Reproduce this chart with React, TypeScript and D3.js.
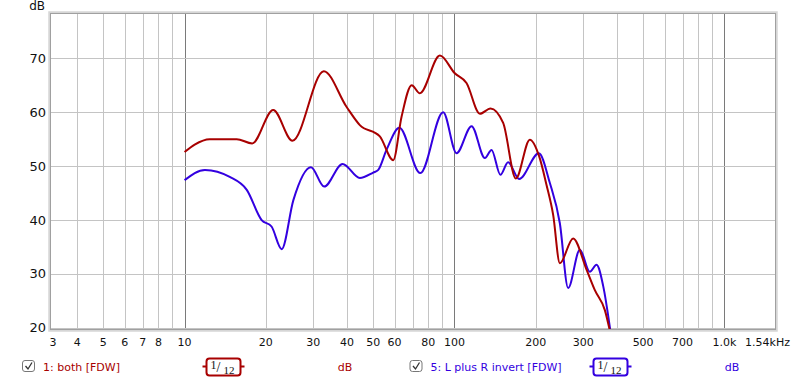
import * as d3 from 'd3';
import { useLayoutEffect, useRef } from 'react';

// 1: both [FDW]
const bothFreq = [10, 10.9, 12.4, 15.6, 17.8, 21.3, 25.1, 32.8, 39.8, 44.6, 52.9, 59.3, 63.7, 69.4, 74.4, 88.3, 100.3, 110.8, 124.2, 136, 151.5, 168.8, 190.2, 206, 219.3, 232, 245.7, 275.2, 308.5, 331.2, 360.7, 376.4];
const bothDb = [52.6, 54.0, 55.0, 55.0, 54.2, 60.4, 54.7, 67.6, 61.0, 57.6, 55.5, 51.1, 59.2, 65.0, 63.5, 70.5, 67.2, 65.4, 59.7, 60.7, 58.0, 47.7, 54.9, 51.8, 46.5, 41.0, 32.0, 36.6, 30.8, 27.0, 23.3, 19.5];

// 5: L plus R invert [FDW]
const invertFreq = [10, 11.9, 14.7, 17.0, 19.3, 21.0, 22.9, 25.3, 29.4, 32.9, 38.5, 44.6, 50.0, 52.2, 56.0, 62.5, 74.7, 90.8, 101.8, 115.7, 129.6, 137.2, 147.9, 158, 173.6, 205.4, 225.5, 245.7, 263.7, 291.4, 317.3, 336, 355.5, 378];
const invertDb = [47.4, 49.3, 48.0, 45.6, 40.0, 38.8, 34.6, 43.7, 49.8, 46.2, 50.4, 47.8, 48.8, 49.3, 53.0, 57.1, 48.7, 60.0, 52.4, 57.4, 51.5, 53.0, 48.4, 50.7, 47.6, 52.4, 46.9, 39.4, 27.4, 34.5, 30.4, 31.7, 27.8, 19.5];

const xTickValues = [3.2, 4, 5, 6, 7, 8, 10, 20, 30, 40, 50, 60, 80, 100, 200, 300, 500, 700, 1000, 1540];
const xTickLabels = ['3', '4', '5', '6', '7', '8', '10', '20', '30', '40', '50', '60', '80', '100', '200', '300', '500', '700', '1.0k', '1.54kHz'];
const yTickValues = [20, 30, 40, 50, 60, 70];

const seriesNames = ['1: both [FDW]', '5: L plus R invert [FDW]'];
const seriesColors = ['#a80000', '#3300e0'];

type Pt = { f: number; db: number };

export default function App() {
  const container = useRef<HTMLDivElement>(null);

  useLayoutEffect(() => {
    if (!container.current) return;
    document.body.style.margin = '0';

    const width = 800,
      height = 383;
    const plot = { left: 51, right: 775, top: 14, bottom: 329 };

    const parent = d3.select(container.current);
    parent.select('svg').remove();

    const svg = parent
      .append('svg')
      .attr('width', width)
      .attr('height', height)
      .style('font-family', '"DejaVu Sans", sans-serif')
      .style('font-size', '11px');

    const x = d3.scaleLog().domain([3.2, 1540]).range([plot.left, plot.right]);
    const y = d3.scaleLinear().domain([19.8, 78.2]).range([plot.bottom, plot.top]);

    svg.append('rect').attr('width', width).attr('height', height).attr('fill', '#fff');

    // grid
    const grid = svg.append('g');
    const gridFreqs = x.ticks().filter((f) => f > 3.3 && f < 1540);
    grid
      .selectAll('line.v')
      .data(gridFreqs)
      .join('line')
      .attr('x1', (d) => Math.round(x(d)) + 0.5)
      .attr('x2', (d) => Math.round(x(d)) + 0.5)
      .attr('y1', plot.top)
      .attr('y2', plot.bottom)
      .attr('stroke', (d) => ([10, 100, 1000].includes(d) ? '#7a7a7a' : '#c4c4c4'))
      .attr('stroke-width', 1);
    grid
      .selectAll('line.h')
      .data(yTickValues)
      .join('line')
      .attr('x1', plot.left)
      .attr('x2', plot.right)
      .attr('y1', (d) => Math.round(y(d)) + 0.5)
      .attr('y2', (d) => Math.round(y(d)) + 0.5)
      .attr('stroke', '#c4c4c4')
      .attr('stroke-width', 1);

    // curves
    svg
      .append('clipPath')
      .attr('id', 'plot-clip')
      .append('rect')
      .attr('x', plot.left)
      .attr('y', plot.top)
      .attr('width', plot.right - plot.left)
      .attr('height', plot.bottom - plot.top);

    const line = d3
      .line<Pt>()
      .x((d) => x(d.f))
      .y((d) => y(d.db))
      .curve(d3.curveMonotoneX);

    const series: Pt[][] = [
      bothFreq.map((f, i) => ({ f, db: bothDb[i] })),
      invertFreq.map((f, i) => ({ f, db: invertDb[i] })),
    ];

    svg
      .append('g')
      .attr('clip-path', 'url(#plot-clip)')
      .selectAll('path')
      .data([series[1], series[0]])
      .join('path')
      .attr('d', (d) => line(d))
      .attr('fill', 'none')
      .attr('stroke', (d, i) => (i === 0 ? seriesColors[1] : seriesColors[0]))
      .attr('stroke-width', 2)
      .attr('stroke-linejoin', 'round');

    // frame
    svg
      .append('rect')
      .attr('x', plot.left - 1.5)
      .attr('y', plot.top - 1.5)
      .attr('width', plot.right - plot.left + 3)
      .attr('height', plot.bottom - plot.top + 3)
      .attr('fill', 'none')
      .attr('stroke', '#d6d6d6')
      .attr('stroke-width', 2.5);
    svg
      .append('rect')
      .attr('x', plot.left - 0.5)
      .attr('y', plot.top - 0.5)
      .attr('width', plot.right - plot.left + 1)
      .attr('height', plot.bottom - plot.top + 1)
      .attr('fill', 'none')
      .attr('stroke', '#a0a0a0')
      .attr('stroke-width', 1);

    // axis labels
    svg
      .append('g')
      .style('font-size', '13px')
      .selectAll('text')
      .data(yTickValues)
      .join('text')
      .attr('x', 46)
      .attr('y', (d) => y(d) + 4.5)
      .attr('text-anchor', 'end')
      .attr('fill', '#111')
      .text((d) => d);
    svg
      .append('text')
      .attr('x', 45)
      .attr('y', 9.5)
      .attr('text-anchor', 'end')
      .attr('fill', '#111')
      .style('font-size', '12px')
      .text('dB');

    svg
      .append('g')
      .selectAll('text')
      .data(xTickValues)
      .join('text')
      .attr('x', (d, i) => (i === 0 ? x(d) + 2 : i === xTickValues.length - 1 ? x(d) + 15 : x(d)))
      .attr('y', 346)
      .attr('text-anchor', (d, i) => (i === xTickValues.length - 1 ? 'end' : 'middle'))
      .attr('fill', '#111')
      .text((d, i) => xTickLabels[i]);

    // legend
    const legendX = [22.5, 410];
    const boxX = [206.5, 593.5];
    const unitX = [345, 732];
    seriesNames.forEach((name, i) => {
      const g = svg.append('g');
      const col = seriesColors[i];
      const cx = legendX[i];
      g.append('rect')
        .attr('x', cx)
        .attr('y', 360.5)
        .attr('width', 12)
        .attr('height', 11)
        .attr('rx', 2.5)
        .attr('fill', '#fff')
        .attr('stroke', '#777')
        .attr('stroke-width', 1);
      g.append('path')
        .attr('d', `M${cx + 3},${366} L${cx + 5.5},${369} L${cx + 9.5},${362.5}`)
        .attr('fill', 'none')
        .attr('stroke', '#333')
        .attr('stroke-width', 1.3);
      g.append('text')
        .attr('x', cx + 20.5)
        .attr('y', 370.5)
        .attr('fill', col)
        .text(name);

      const bx = boxX[i];
      g.append('line')
        .attr('x1', bx - 4)
        .attr('x2', bx + 38)
        .attr('y1', 366.5)
        .attr('y2', 366.5)
        .attr('stroke', col)
        .attr('stroke-width', 2);
      g.append('rect')
        .attr('x', bx)
        .attr('y', 358.5)
        .attr('width', 34)
        .attr('height', 17)
        .attr('rx', 3)
        .attr('fill', '#fff')
        .attr('stroke', col)
        .attr('stroke-width', 2);
      const frac = g.append('g').style('font-family', '"Liberation Serif", serif').attr('fill', '#111');
      frac.append('text').attr('x', bx + 4).attr('y', 369).style('font-size', '12px').text('1');
      frac.append('text').attr('x', bx + 10).attr('y', 372).style('font-size', '14px').text('/');
      frac.append('text').attr('x', bx + 17).attr('y', 374).style('font-size', '11px').text('12');

      g.append('text')
        .attr('x', unitX[i])
        .attr('y', 370.5)
        .attr('text-anchor', 'middle')
        .attr('fill', col)
        .text('dB');
    });
  }, []);

  return <div ref={container} style={{ width: 800, height: 383 }}></div>;
}
